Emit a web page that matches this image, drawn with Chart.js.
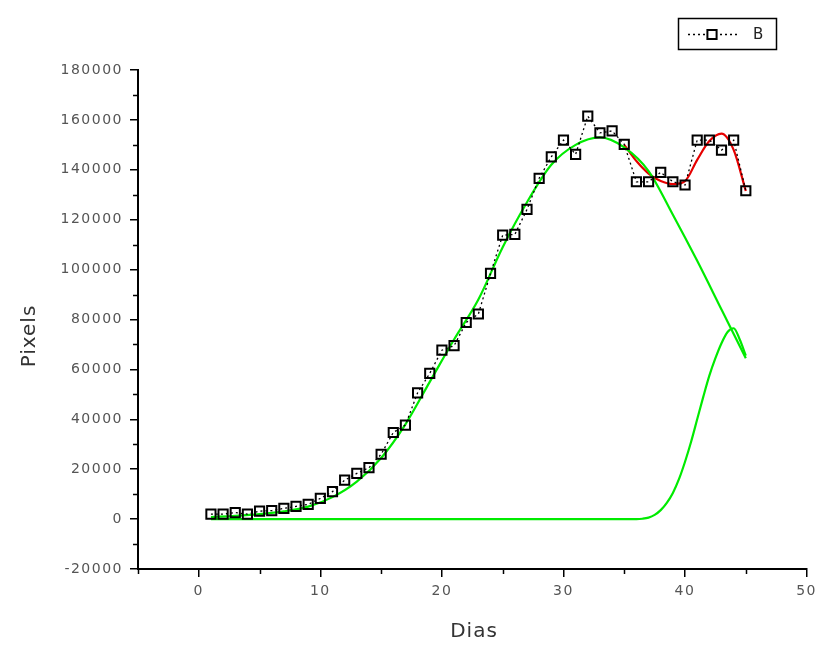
<!DOCTYPE html>
<html>
<head>
<meta charset="utf-8">
<script src="https://cdn.jsdelivr.net/npm/chart.js@4.4.1/dist/chart.umd.min.js"></script>
<style>
  html, body { margin: 0; padding: 0; background: #fff; }
  #c { display: block; }
</style>
</head>
<body>
<canvas id="c" width="823" height="646"></canvas>
<script>
// Measured series B (pixels per day)
const days = [1, 2, 3, 4, 5, 6, 7, 8, 9, 10, 11, 12, 13, 14, 15, 16, 17, 18, 19, 20, 21, 22, 23,
              24, 25, 26, 27, 28, 29, 30, 31, 32, 33, 34, 35, 36, 37, 38, 39, 40, 41, 42, 43, 44, 45];
const pixelsB = [2000, 2000, 2600, 2000, 3200, 3400, 4300, 5100, 5900, 8300, 11000, 15600, 18300, 20600,
                 26000, 34700, 37700, 50600, 58400, 67700, 69500, 78800, 82200, 98500, 113800, 114100,
                 124100, 136600, 145200, 151900, 146200, 161500, 154800, 155600, 150200, 135200, 135200,
                 139000, 135200, 133900, 151900, 151900, 147900, 151900, 131600];

// First fitted peak
const peak1Days = [1, 3, 5, 7, 9, 11, 13, 15, 17, 19, 21, 23, 25, 27, 29, 31, 33, 35, 37, 39, 41, 43, 45];
const peak1 = [800, 1300, 2000, 3100, 5000, 8800, 15000, 24500, 38000, 55000, 72000, 88000, 109000,
               127000, 142000, 150000, 153000, 149000, 139500, 122000, 103500, 84000, 64500];

// Second fitted peak
const peak2Days = [1, 20, 36, 36.5, 37, 37.5, 38, 38.5, 39, 39.5, 40, 40.5, 41, 41.5, 42, 42.5,
                   43, 43.5, 44, 44.5, 45];
const peak2 = [0, 0, 0, 150, 600, 1700, 3600, 6500, 10500, 16000, 23000, 31000, 40000, 49000,
               57500, 64500, 70500, 75000, 76500, 72000, 65500];

// Cumulative fit over the overlap
const sumDays = [35, 36, 37, 38, 39, 40, 41, 42, 43, 44, 45];
const sumFit = [150000, 143500, 138500, 135500, 134300, 135500, 144000, 151500, 154500, 148000, 131500];

// Axis ticks
const xTicks = [0, 10, 20, 30, 40, 50];
const xMinorTicks = [-5, 5, 15, 25, 35, 45];
const yTicks = [-20000, 0, 20000, 40000, 60000, 80000, 100000, 120000, 140000, 160000, 180000];
const yMinorTicks = [-10000, 10000, 30000, 50000, 70000, 90000, 110000, 130000, 150000, 170000];

const toXY = (xs, ys) => xs.map((x, i) => ({ x: x, y: ys[i] }));

const FONT = '"DejaVu Sans", "Liberation Sans", sans-serif';

// Slightly spread text, as in the original plot export
const spacing = {
  id: 'spacing',
  beforeLayout(chart) { chart.ctx.letterSpacing = '1.5px'; },
  beforeDraw(chart) { chart.ctx.letterSpacing = '1.5px'; }
};

// Minor tick marks on both axes
const minorTicks = {
  id: 'minorTicks',
  afterDraw(chart) {
    const ctx = chart.ctx;
    const xs = chart.scales.x, ys = chart.scales.y;
    ctx.save();
    ctx.strokeStyle = '#000';
    ctx.lineWidth = 1.5;
    ctx.beginPath();
    xMinorTicks.forEach(v => {
      const px = Math.round(xs.getPixelForValue(v)) + 0.5;
      ctx.moveTo(px, xs.top);
      ctx.lineTo(px, xs.top + 5);
    });
    yMinorTicks.forEach(v => {
      const py = Math.round(ys.getPixelForValue(v)) + 0.5;
      ctx.moveTo(ys.right, py);
      ctx.lineTo(ys.right - 5, py);
    });
    ctx.stroke();
    ctx.restore();
  }
};

// Axis titles
const axisTitles = {
  id: 'axisTitles',
  afterDraw(chart) {
    const ctx = chart.ctx;
    ctx.save();
    ctx.letterSpacing = '1px';
    ctx.fillStyle = '#333';
    ctx.font = '20px ' + FONT;
    ctx.textAlign = 'center';
    ctx.textBaseline = 'middle';
    ctx.fillText('Dias', 474, 632);
    ctx.translate(30, 336);
    ctx.rotate(-Math.PI / 2);
    ctx.fillText('Pixels', 0, 0);
    ctx.restore();
  }
};

// Framed legend for series B
const framedLegend = {
  id: 'framedLegend',
  afterDraw(chart) {
    const ds = chart.data.datasets[0];
    const ctx = chart.ctx;
    ctx.save();
    ctx.strokeStyle = '#000';
    ctx.lineWidth = 1.5;
    ctx.strokeRect(678.5, 18.5, 98, 31);
    ctx.setLineDash(ds.borderDash);
    ctx.lineWidth = ds.borderWidth;
    ctx.beginPath();
    ctx.moveTo(688, 34.5);
    ctx.lineTo(705, 34.5);
    ctx.moveTo(720, 34.5);
    ctx.lineTo(738, 34.5);
    ctx.stroke();
    ctx.setLineDash([]);
    ctx.fillStyle = 'rgba(0,0,0,0)';
    ctx.strokeStyle = ds.pointBorderColor;
    ctx.lineWidth = ds.pointBorderWidth;
    Chart.helpers.drawPoint(ctx, {
      pointStyle: ds.pointStyle, radius: ds.pointRadius, borderWidth: ds.pointBorderWidth, rotation: 0
    }, 712, 34.5);
    ctx.letterSpacing = '0px';
    ctx.fillStyle = '#222';
    ctx.font = '15px ' + FONT;
    ctx.textAlign = 'left';
    ctx.textBaseline = 'middle';
    ctx.fillText(ds.label, 753, 35);
    ctx.restore();
  }
};

new Chart(document.getElementById('c'), {
  type: 'line',
  data: {
    datasets: [
      {
        label: 'B',
        data: toXY(days, pixelsB),
        borderColor: '#000',
        borderWidth: 1.3,
        borderDash: [2, 3],
        pointStyle: 'rect',
        pointRadius: 6.5,
        pointBorderWidth: 2,
        pointBorderColor: '#000',
        pointBackgroundColor: 'rgba(0,0,0,0)',
        tension: 0
      },
      {
        label: 'Pico 1',
        data: toXY(peak1Days, peak1),
        borderColor: 'rgb(0,235,0)',
        borderWidth: 2.2,
        pointRadius: 0,
        cubicInterpolationMode: 'monotone'
      },
      {
        label: 'Pico 2',
        data: toXY(peak2Days, peak2),
        borderColor: 'rgb(0,235,0)',
        borderWidth: 2.2,
        pointRadius: 0,
        cubicInterpolationMode: 'monotone'
      },
      {
        label: 'Ajuste',
        data: toXY(sumDays, sumFit),
        borderColor: 'rgb(230,0,0)',
        borderWidth: 2.2,
        pointRadius: 0,
        cubicInterpolationMode: 'monotone'
      }
    ]
  },
  options: {
    responsive: false,
    animation: false,
    devicePixelRatio: 1,
    layout: { padding: { left: 0, right: 13, top: 70, bottom: 0 } },
    plugins: { legend: { display: false }, tooltip: { enabled: false } },
    scales: {
      x: {
        type: 'linear',
        min: -5,
        max: 50,
        afterBuildTicks: s => { s.ticks = xTicks.map(v => ({ value: v })); },
        afterFit: s => { s.height = 77; },
        grid: { display: true, drawOnChartArea: false, drawTicks: true, tickLength: 8, color: '#000', lineWidth: 1.5 },
        border: { display: true, color: '#000', width: 2 },
        ticks: { color: '#555', padding: 6, font: { family: FONT, size: 14 }, maxRotation: 0, callback: v => String(v) }
      },
      y: {
        type: 'linear',
        min: -20000,
        max: 180000,
        afterBuildTicks: s => { s.ticks = yTicks.map(v => ({ value: v })); },
        afterFit: s => { s.width = 138; },
        grid: { display: true, drawOnChartArea: false, drawTicks: true, tickLength: 8, color: '#000', lineWidth: 1.5 },
        border: { display: true, color: '#000', width: 2 },
        ticks: { color: '#555', padding: 7, font: { family: FONT, size: 14 }, callback: v => String(v) }
      }
    }
  },
  plugins: [spacing, minorTicks, axisTitles, framedLegend]
});
</script>
</body>
</html>
